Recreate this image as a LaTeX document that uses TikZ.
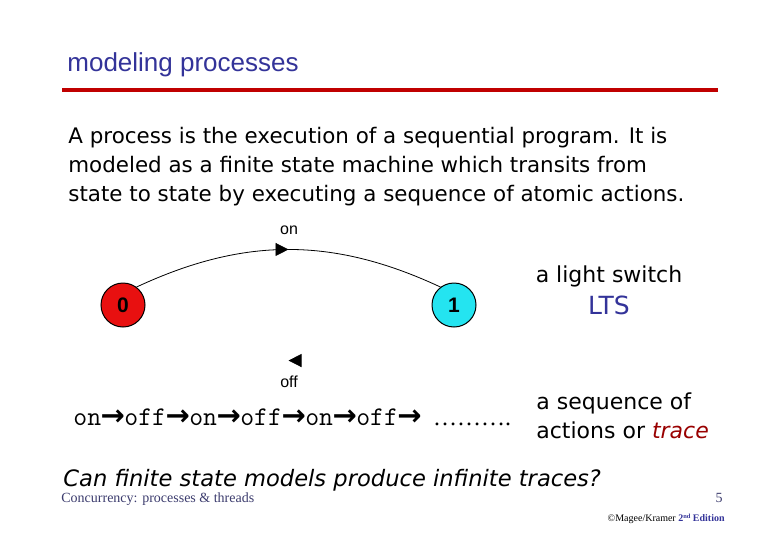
\documentclass[tikz,border=0pt]{standalone}
\usepackage{fontspec}
\setmainfont{Liberation Sans}
\newfontfamily\comicft{DejaVu Sans}
\newfontfamily\serifft{Liberation Serif}
\usetikzlibrary{arrows.meta,decorations.markings}
\definecolor{titleblue}{RGB}{51,51,153}
\definecolor{rulered}{RGB}{192,0,0}
\definecolor{statered}{RGB}{232,16,16}
\definecolor{statecyan}{RGB}{36,228,240}
\definecolor{tracered}{RGB}{153,0,0}
\definecolor{footblue}{RGB}{60,60,110}
\newcommand{\tarr}{\makebox[11.6pt]{\comicft\bfseries\fontsize{14.5}{15}\selectfont →}}

\begin{document}
\begin{tikzpicture}[x=0.5pt,y=0.5pt,>=Stealth]
\tikzstyle{state}=[circle,draw,line width=0.5pt,minimum size=22pt,inner sep=0pt,font=\fontsize{10.5}{12}\selectfont\bfseries]
\tikzstyle{lbl}=[font=\fontsize{8}{9}\selectfont,inner sep=0pt]
\tikzstyle{comic}=[font=\comicft\fontsize{11}{14.5}\selectfont,inner sep=0pt]
\tikzstyle{mid}=[postaction={decorate},decoration={markings,mark=at position 0.5 with {\arrow{Triangle[length=6.5pt,width=6.5pt]}}}]
\fill[white] (0,0) rectangle (780,-540);
\node[anchor=base west,inner sep=0pt,text=titleblue,font=\fontsize{13}{15}\selectfont] (title) at (67,-72) {modeling processes};
\draw[rulered,line width=2pt] (62,-90) -- (718,-90);
\node[comic,anchor=north west,align=left,font=\comicft\fontsize{10.7}{14.5}\selectfont] (para) at (68,-127) {A process is the execution of a sequential program. It is\\ modeled as a finite state machine which transits from\\ state to state by executing a sequence of atomic actions.};
\node[state,fill=statered] (s0) at (123,-305) {0}; \node[state,fill=statecyan] (s1) at (454,-305) {1};
\draw[mid] (s0.53) to[out=25,in=155] (s1.127);
\path[mid] (s1.-127) to[out=-155,in=-25] (s0.-53);
\node[lbl] (on) at (289,-230) {on}; \node[lbl] (off) at (289,-382) {off};
\node[comic] (switch) at (609,-276) {a light switch};
\node[comic,text=titleblue,font=\comicft\fontsize{12.5}{14}\selectfont] (lts) at (609,-305) {LTS};
\node[anchor=base west,inner sep=0pt,font=\ttfamily\fontsize{13.5}{15}\selectfont] (trace) at (73,-425) {on\tarr off\tarr on\tarr off\tarr on\tarr off\tarr\hspace{6pt}{\serifft\fontsize{12}{14}\selectfont ……….}};
\node[comic,anchor=north west,align=left] (seq) at (536,-392) {a sequence of\\ actions or {\color{tracered}\itshape trace}};
\node[comic,anchor=base west,font=\comicft\itshape\fontsize{11.3}{13}\selectfont] (quest) at (63,-486) {Can finite state models produce infinite traces?};
\node[anchor=base west,inner sep=0pt,text=footblue,font=\serifft\fontsize{7}{8}\selectfont] (course) at (61,-502) {Concurrency: processes \& threads};
\node[anchor=base east,inner sep=0pt,text=footblue,font=\serifft\fontsize{7}{8}\selectfont] (page) at (723,-502) {5};
\node[anchor=base east,inner sep=0pt,font=\serifft\fontsize{5}{6}\selectfont] (copy) at (725,-521) {©Magee/Kramer {\color{titleblue}\bfseries 2\raisebox{1.5pt}{\fontsize{3.2}{4}\selectfont nd} Edition}};
\end{tikzpicture}
\end{document}
